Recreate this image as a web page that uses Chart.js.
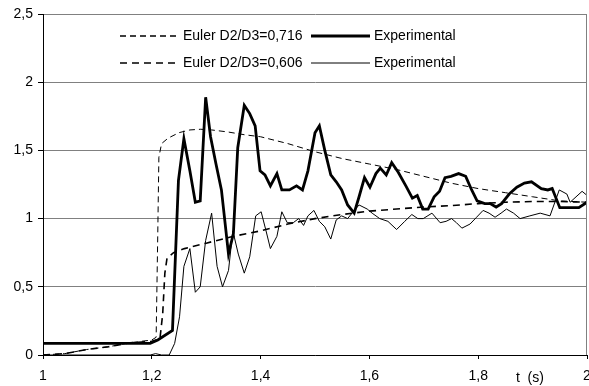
<!DOCTYPE html>
<html>
<head>
<meta charset="utf-8">
<script src="https://cdn.jsdelivr.net/npm/chart.js@4/dist/chart.umd.min.js"></script>
<style>
  html, body { margin: 0; padding: 0; background: #fff; }
</style>
</head>
<body>
<canvas id="myChart" width="589" height="386"></canvas>
<script>
// Euler D2/D3=0,716 (upper dashed)
const eulerT716 = [1.0, 1.04, 1.08, 1.12, 1.16, 1.2, 1.208, 1.211, 1.213, 1.218, 1.23, 1.25, 1.27, 1.29, 1.31, 1.34, 1.37, 1.4, 1.45, 1.5, 1.55, 1.6, 1.65, 1.7, 1.75, 1.8, 1.85, 1.9, 1.95, 2.0];
const eulerV716 = [0, 0.01, 0.04, 0.06, 0.09, 0.11, 0.13, 0.9, 1.45, 1.55, 1.59, 1.63, 1.65, 1.655, 1.65, 1.635, 1.615, 1.6, 1.55, 1.49, 1.44, 1.4, 1.36, 1.31, 1.26, 1.22, 1.19, 1.16, 1.13, 1.12];

// Experimental (thick)
const expT716 = [1.0, 1.197, 1.211, 1.238, 1.249, 1.259, 1.27, 1.28, 1.289, 1.299, 1.308, 1.318, 1.328, 1.341, 1.35, 1.358, 1.37, 1.38, 1.39, 1.399, 1.408, 1.418, 1.43, 1.439, 1.453, 1.466, 1.477, 1.487, 1.5, 1.508, 1.518, 1.529, 1.539, 1.549, 1.56, 1.572, 1.581, 1.591, 1.601, 1.612, 1.62, 1.631, 1.641, 1.653, 1.667, 1.679, 1.688, 1.698, 1.708, 1.719, 1.729, 1.739, 1.75, 1.764, 1.777, 1.788, 1.798, 1.812, 1.822, 1.833, 1.843, 1.857, 1.871, 1.885, 1.898, 1.916, 1.928, 1.936, 1.95, 1.985, 2.0];
const expV716 = [0.085, 0.085, 0.11, 0.18, 1.28, 1.585, 1.35, 1.12, 1.13, 1.89, 1.6, 1.4, 1.21, 0.74, 0.89, 1.52, 1.83, 1.77, 1.68, 1.35, 1.32, 1.24, 1.33, 1.21, 1.21, 1.24, 1.21, 1.35, 1.63, 1.68, 1.5, 1.32, 1.27, 1.21, 1.1, 1.04, 1.16, 1.3, 1.23, 1.33, 1.37, 1.32, 1.41, 1.34, 1.24, 1.15, 1.17, 1.07, 1.07, 1.16, 1.2, 1.3, 1.31, 1.33, 1.31, 1.21, 1.13, 1.11, 1.11, 1.085, 1.11, 1.18, 1.23, 1.26, 1.27, 1.22, 1.21, 1.22, 1.08, 1.08, 1.12];

// Euler D2/D3=0,606 (lower dashed)
const eulerT606 = [1.0, 1.04, 1.08, 1.12, 1.16, 1.2, 1.215, 1.22, 1.224, 1.228, 1.24, 1.26, 1.3, 1.35, 1.4, 1.45, 1.5, 1.55, 1.6, 1.65, 1.7, 1.75, 1.8, 1.85, 1.9, 1.95, 2.0];
const eulerV606 = [0, 0.01, 0.04, 0.06, 0.09, 0.1, 0.12, 0.3, 0.6, 0.71, 0.75, 0.78, 0.82, 0.87, 0.91, 0.96, 1.0, 1.03, 1.055, 1.07, 1.085, 1.095, 1.11, 1.12, 1.125, 1.125, 1.12];

// Experimental (thin)
const expT606 = [1.0, 1.197, 1.207, 1.218, 1.232, 1.242, 1.251, 1.259, 1.27, 1.28, 1.289, 1.299, 1.31, 1.32, 1.33, 1.341, 1.349, 1.359, 1.37, 1.38, 1.391, 1.401, 1.41, 1.418, 1.43, 1.439, 1.449, 1.46, 1.47, 1.479, 1.487, 1.498, 1.508, 1.518, 1.529, 1.539, 1.549, 1.56, 1.57, 1.581, 1.596, 1.605, 1.619, 1.634, 1.65, 1.665, 1.678, 1.689, 1.699, 1.715, 1.73, 1.741, 1.751, 1.76, 1.77, 1.785, 1.797, 1.809, 1.82, 1.831, 1.842, 1.852, 1.865, 1.877, 1.895, 1.914, 1.932, 1.949, 1.963, 1.969, 1.991, 2.0];
const expV606 = [0, 0, 0.01, 0, 0, 0.085, 0.28, 0.65, 0.78, 0.46, 0.5, 0.84, 1.04, 0.65, 0.5, 0.62, 0.91, 0.74, 0.6, 0.72, 1.02, 1.05, 0.91, 0.78, 0.87, 1.05, 0.97, 0.97, 1.0, 0.95, 1.02, 1.06, 0.98, 0.94, 0.85, 0.99, 1.02, 1.0, 1.05, 1.1, 1.07, 1.04, 1.0, 0.98, 0.92, 0.98, 1.03, 1.0, 1.0, 1.04, 0.97, 0.98, 1.0, 0.97, 0.93, 0.96, 1.01, 1.06, 1.04, 1.01, 1.04, 1.07, 1.04, 1.0, 1.02, 1.04, 1.02, 1.21, 1.18, 1.12, 1.2, 1.17];

const seriesLabels = ['Euler D2/D3=0,716', 'Experimental', 'Euler D2/D3=0,606', 'Experimental'];
const yTicks = [0, 0.5, 1, 1.5, 2, 2.5];
const xTicks = [1, 1.2, 1.4, 1.6, 1.8, 2];
const xTitle = 't  (s)';

function pts(ts, vs) {
    return ts.map((t, i) => ({ x: t, y: vs[i] }));
}

function commaNum(v) {
    return (Math.round(v * 10) / 10).toString().replace('.', ',');
}

const FONT = '"Liberation Sans", Arial, sans-serif';

// legend drawn in 2 rows like the original (2 entries per row)
const legendAndExtras = {
    id: 'legendAndExtras',
    afterDraw(chart) {
        const ctx = chart.ctx;
        const area = chart.chartArea;
        ctx.save();
        // right frame line
        ctx.strokeStyle = '#808080';
        ctx.lineWidth = 1;
        ctx.beginPath();
        ctx.moveTo(area.right - 0.5, area.top);
        ctx.lineTo(area.right - 0.5, area.bottom);
        ctx.stroke();

        ctx.font = '14px ' + FONT;
        ctx.fillStyle = '#000';
        ctx.textBaseline = 'middle';
        const rows = [36, 63];
        const cols = [{ x0: 120, x1: 178, tx: 183 }, { x0: 311, x1: 370, tx: 374 }];
        chart.data.datasets.forEach((ds, i) => {
            const r = rows[Math.floor(i / 2)];
            const c = cols[i % 2];
            ctx.strokeStyle = ds.borderColor;
            ctx.lineWidth = ds.legendWidth;
            ctx.setLineDash(ds.borderDash || []);
            ctx.beginPath();
            ctx.moveTo(c.x0, r);
            ctx.lineTo(c.x1, r);
            ctx.stroke();
            ctx.setLineDash([]);
            ctx.fillText(ds.label, c.tx, r);
        });

        // axis title next to the 1,8 label
        const xs = chart.scales.x;
        ctx.textAlign = 'center';
        ctx.fillText(xTitle, xs.getPixelForValue(1.895), 378);
        ctx.restore();
    }
};

const ctx = document.getElementById('myChart');
const chart = new Chart(ctx, {
    type: 'line',
    data: {
        datasets: [
            {
                label: seriesLabels[0],
                data: pts(eulerT716, eulerV716),
                borderColor: '#000',
                borderWidth: 1,
                borderDash: [6, 4],
                legendWidth: 1.5,
                pointRadius: 0,
                tension: 0
            },
            {
                label: seriesLabels[1],
                data: pts(expT716, expV716),
                borderColor: '#000',
                borderWidth: 2.8,
                legendWidth: 3,
                pointRadius: 0,
                tension: 0
            },
            {
                label: seriesLabels[2],
                data: pts(eulerT606, eulerV606),
                borderColor: '#000',
                borderWidth: 1.6,
                borderDash: [7, 5],
                legendWidth: 1.5,
                pointRadius: 0,
                tension: 0
            },
            {
                label: seriesLabels[3],
                data: pts(expT606, expV606),
                borderColor: '#000',
                borderWidth: 1,
                legendWidth: 1,
                pointRadius: 0,
                tension: 0
            }
        ]
    },
    options: {
        responsive: false,
        animation: false,
        devicePixelRatio: 1,
        layout: { padding: { top: 14, right: 2, left: 0, bottom: 0 } },
        plugins: {
            legend: { display: false },
            tooltip: { enabled: false }
        },
        scales: {
            x: {
                type: 'linear',
                min: 1,
                max: 2,
                afterBuildTicks: (scale) => { scale.ticks = xTicks.map(v => ({ value: v })); },
                afterFit: (scale) => { scale.height = 31; scale.paddingLeft = 0; scale.paddingRight = 0; },
                ticks: {
                    callback: (v) => commaNum(v),
                    color: '#000',
                    font: { family: FONT, size: 14 },
                    padding: 9,
                    maxRotation: 0,
                    autoSkip: false
                },
                grid: {
                    drawOnChartArea: false,
                    drawTicks: true,
                    tickLength: 4,
                    tickColor: '#000'
                },
                border: { color: '#000', width: 1 }
            },
            y: {
                min: 0,
                max: 2.5,
                afterBuildTicks: (scale) => { scale.ticks = yTicks.map(v => ({ value: v })); },
                afterFit: (scale) => { scale.width = 43; },
                ticks: {
                    callback: (v) => commaNum(v),
                    color: '#000',
                    font: { family: FONT, size: 14 },
                    padding: 5
                },
                grid: {
                    color: '#808080',
                    lineWidth: 1,
                    tickLength: 5,
                    tickColor: '#000'
                },
                border: { color: '#000', width: 1 }
            }
        }
    },
    plugins: [legendAndExtras]
});
</script>
</body>
</html>
